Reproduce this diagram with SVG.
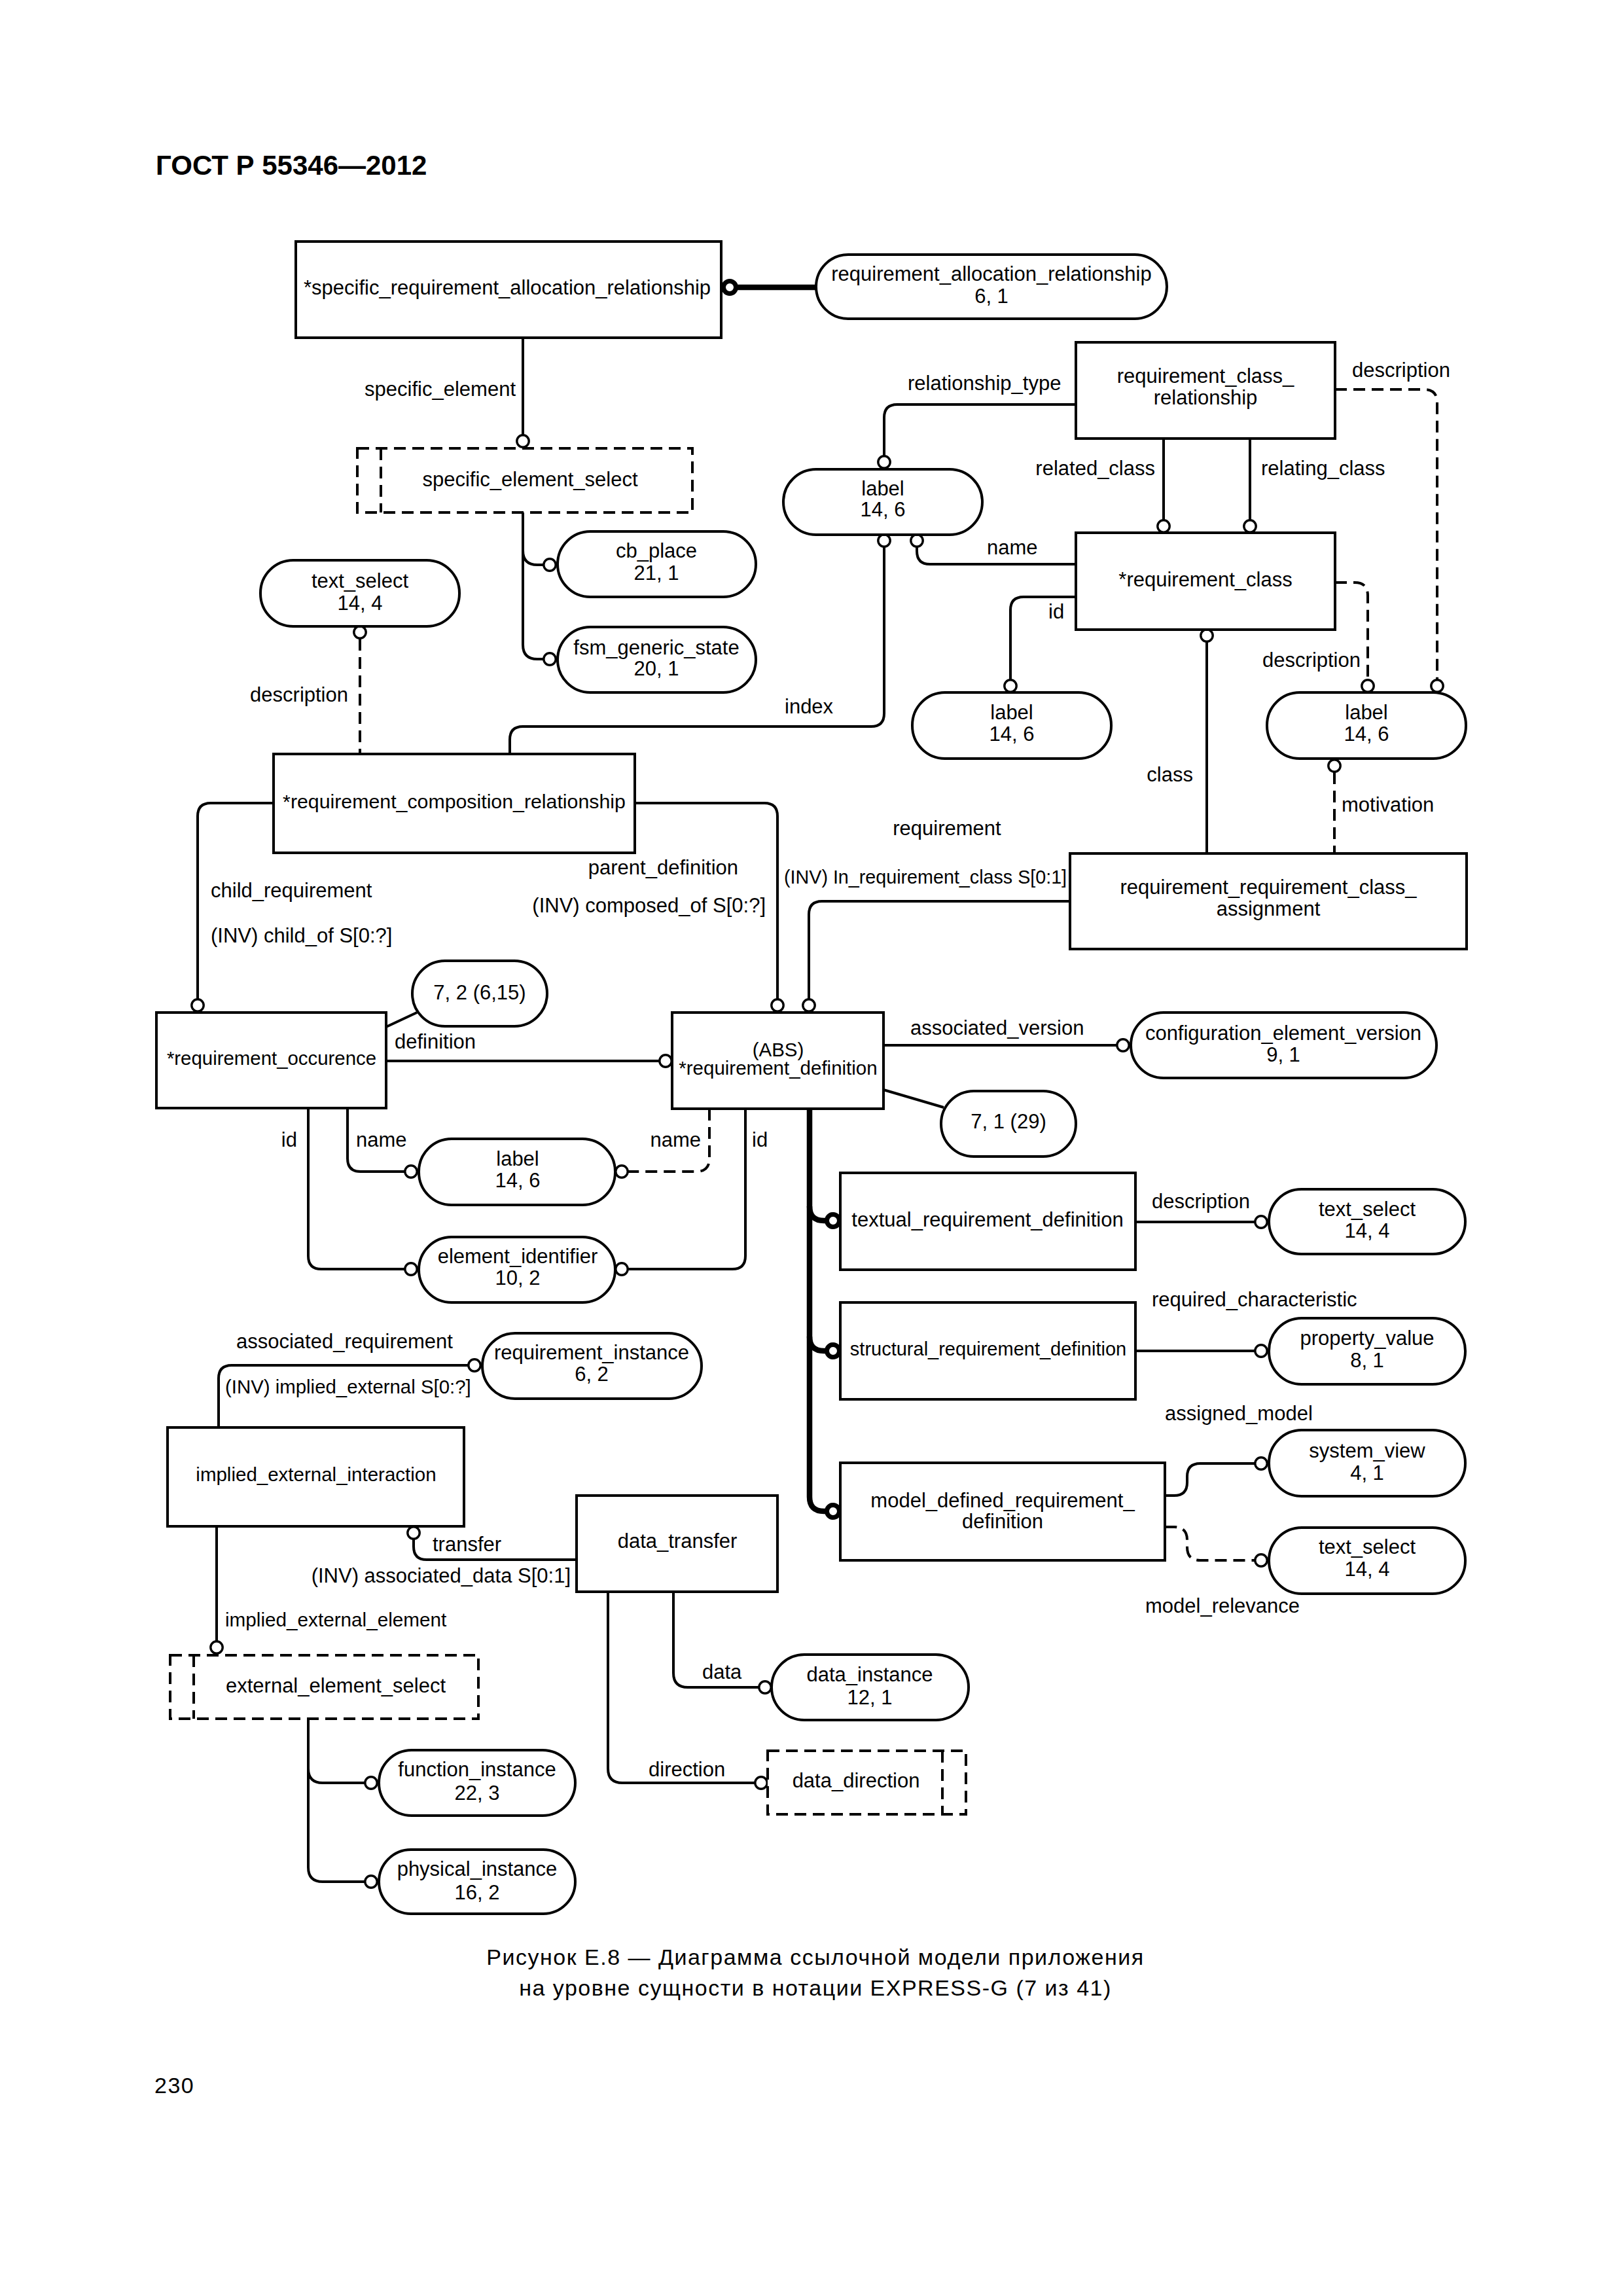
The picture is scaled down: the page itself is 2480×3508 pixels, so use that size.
<svg xmlns="http://www.w3.org/2000/svg" width="2480" height="3508" viewBox="0 0 2480 3508">
<style>
.bx{fill:#fff;stroke:#000;stroke-width:4}
.sl{fill:#fff;stroke:#000;stroke-width:4;stroke-dasharray:18 10}
.sli{fill:none;stroke:#000;stroke-width:4;stroke-dasharray:18 10}
.ln{fill:none;stroke:#000;stroke-width:4}
.dl{fill:none;stroke:#000;stroke-width:4;stroke-dasharray:18 10}
.tk{fill:none;stroke:#000;stroke-width:8.5}
.c{fill:#fff;stroke:#000;stroke-width:3.4}
.ck{fill:#fff;stroke:#000;stroke-width:7}
text{font-family:"Liberation Sans",Arial,sans-serif;font-size:31px;fill:#000}
.m{text-anchor:middle}
.e{text-anchor:end}
.hd{font-size:42px;font-weight:bold}
.cap{font-size:34px;letter-spacing:1.5px}
</style>
<rect width="2480" height="3508" fill="#fff"/>
<text class="hd" x="238" y="267">ГОСТ Р 55346—2012</text>

<g id="connectors">
<path class="tk" d="M1125,439 H1247"/>
<circle class="ck" cx="1115" cy="439" r="9.5"/>
<path class="ln" d="M799,516 V664"/><circle class="c" cx="799" cy="674" r="9.2"/>
<path class="ln" d="M799,783 V985 Q799,1007 821,1007 H830"/><circle class="c" cx="840" cy="1007" r="9.2"/>
<path class="ln" d="M799,841 Q799,863 821,863 H830"/><circle class="c" cx="840" cy="863" r="9.2"/>
<path class="dl" d="M550,976 V1152"/><circle class="c" cx="550" cy="966" r="9.2"/>
<path class="ln" d="M779,1152 V1130 Q779,1110 799,1110 H1331 Q1351,1110 1351,1090 V836"/><circle class="c" cx="1351" cy="826" r="9.2"/>
<path class="ln" d="M1644,618 H1371 Q1351,618 1351,638 V696"/><circle class="c" cx="1351" cy="706" r="9.2"/>
<path class="ln" d="M1644,862 H1421 Q1401,862 1401,842 V836"/><circle class="c" cx="1401" cy="826" r="9.2"/>
<path class="ln" d="M1644,912 H1564 Q1544,912 1544,932 V1038"/><circle class="c" cx="1544" cy="1048" r="9.2"/>
<path class="ln" d="M1778,670 V794"/><circle class="c" cx="1778" cy="804" r="9.2"/>
<path class="ln" d="M1910,670 V794"/><circle class="c" cx="1910" cy="804" r="9.2"/>
<path class="dl" d="M2040,595 H2176 Q2196,595 2196,615 V1038"/><circle class="c" cx="2196" cy="1048" r="9.2"/>
<path class="dl" d="M2040,890 H2070 Q2090,890 2090,910 V1038"/><circle class="c" cx="2090" cy="1048" r="9.2"/>
<path class="ln" d="M1844,981 V1304"/><circle class="c" cx="1844" cy="971" r="9.2"/>
<path class="dl" d="M2039,1180 V1304"/><circle class="c" cx="2039" cy="1170" r="9.2"/>
<path class="ln" d="M418,1227 H322 Q302,1227 302,1247 V1526"/><circle class="c" cx="302" cy="1536" r="9.2"/>
<path class="ln" d="M970,1227 H1168 Q1188,1227 1188,1247 V1526"/><circle class="c" cx="1188" cy="1536" r="9.2"/>
<path class="ln" d="M1635,1377 H1256 Q1236,1377 1236,1397 V1526"/><circle class="c" cx="1236" cy="1536" r="9.2"/>
<path class="ln" d="M590,1621 H1007"/><circle class="c" cx="1017" cy="1621" r="9.2"/>
<path class="ln" d="M590,1569 L637,1547"/>
<path class="ln" d="M1350,1597 H1706"/><circle class="c" cx="1716" cy="1597" r="9.2"/>
<path class="ln" d="M1350,1665 L1442,1692"/>
<path class="ln" d="M531,1693 V1770 Q531,1790 551,1790 H618"/><circle class="c" cx="628" cy="1790" r="9.2"/>
<path class="ln" d="M471,1693 V1919 Q471,1939 491,1939 H618"/><circle class="c" cx="628" cy="1939" r="9.2"/>
<path class="dl" d="M1084,1694 V1770 Q1084,1790 1064,1790 H960"/><circle class="c" cx="950" cy="1790" r="9.2"/>
<path class="ln" d="M1139,1694 V1919 Q1139,1939 1119,1939 H960"/><circle class="c" cx="950" cy="1939" r="9.2"/>
<path class="tk" d="M1237,1694 V2287 Q1237,2309 1259,2309 H1263"/>
<path class="tk" d="M1237,1843 Q1237,1865 1259,1865 H1263"/>
<path class="tk" d="M1237,2042 Q1237,2064 1259,2064 H1263"/>
<circle class="ck" cx="1273" cy="1865" r="9.5"/>
<circle class="ck" cx="1273" cy="2064" r="9.5"/>
<circle class="ck" cx="1273" cy="2309" r="9.5"/>
<path class="ln" d="M1735,1867 H1917"/><circle class="c" cx="1927" cy="1867" r="9.2"/>
<path class="ln" d="M1735,2064 H1917"/><circle class="c" cx="1927" cy="2064" r="9.2"/>
<path class="ln" d="M1780,2285 H1794 Q1814,2285 1814,2265 V2256 Q1814,2236 1834,2236 H1917"/><circle class="c" cx="1927" cy="2236" r="9.2"/>
<path class="dl" d="M1780,2333 H1794 Q1814,2333 1814,2353 V2364 Q1814,2384 1834,2384 H1917"/><circle class="c" cx="1927" cy="2384" r="9.2"/>
<path class="ln" d="M334,2181 V2106 Q334,2086 354,2086 H715"/><circle class="c" cx="725" cy="2086" r="9.2"/>
<path class="ln" d="M881,2383 H652 Q632,2383 632,2363 V2352"/><circle class="c" cx="632" cy="2342" r="9.2"/>
<path class="ln" d="M331,2332 V2507"/><circle class="c" cx="331" cy="2517" r="9.2"/>
<path class="ln" d="M471,2626 V2853 Q471,2875 493,2875 H557"/><circle class="c" cx="567" cy="2875" r="9.2"/>
<path class="ln" d="M471,2702 Q471,2724 493,2724 H557"/><circle class="c" cx="567" cy="2724" r="9.2"/>
<path class="ln" d="M1029,2432 V2556 Q1029,2578 1051,2578 H1159"/><circle class="c" cx="1169" cy="2578" r="9.2"/>
<path class="ln" d="M929,2432 V2702 Q929,2724 951,2724 H1153"/><circle class="c" cx="1163" cy="2724" r="9.2"/>

<text class="e" x="788" y="605">specific_element</text>
<text x="1387" y="596">relationship_type</text>
<text x="2066" y="576">description</text>
<text class="e" x="1765" y="726">related_class</text>
<text x="1927" y="726">relating_class</text>
<text x="1508" y="847">name</text>
<text x="1602" y="945">id</text>
<text class="e" x="2079" y="1019">description</text>
<text class="e" x="532" y="1072">description</text>
<text x="1199" y="1090">index</text>
<text class="e" x="1823" y="1194">class</text>
<text x="2050" y="1240">motivation</text>
<text class="m" x="1447" y="1276">requirement</text>
<text class="e" x="1128" y="1336">parent_definition</text>
<text x="1198" y="1350" style="font-size:28.7px">(INV) In_requirement_class S[0:1]</text>
<text x="322" y="1371">child_requirement</text>
<text class="e" x="1170" y="1394">(INV) composed_of S[0:?]</text>
<text x="322" y="1440">(INV) child_of S[0:?]</text>
<text x="1391" y="1581">associated_version</text>
<text x="603" y="1602">definition</text>
<text class="e" x="454" y="1752">id</text>
<text x="544" y="1752">name</text>
<text class="e" x="1071" y="1752">name</text>
<text x="1149" y="1752">id</text>
<text x="1760" y="1846">description</text>
<text x="1760" y="1996">required_characteristic</text>
<text x="361" y="2060">associated_requirement</text>
<text x="344" y="2129" style="font-size:29.4px">(INV) implied_external S[0:?]</text>
<text x="1780" y="2170">assigned_model</text>
<text x="661" y="2370">transfer</text>
<text class="e" x="872" y="2418">(INV) associated_data S[0:1]</text>
<text x="1750" y="2464">model_relevance</text>
<text x="344" y="2485" style="font-size:29.7px">implied_external_element</text>
<text x="1073" y="2565">data</text>
<text x="991" y="2714">direction</text>
</g>

<g id="n-srar"><rect class="bx" x="452" y="369" width="650" height="147"/><text class="m" x="775" y="450">*specific_requirement_allocation_relationship</text></g>
<g id="n-rar"><rect class="bx" x="1247" y="389" width="536" height="98" rx="49"/><text class="m" x="1515" y="429">requirement_allocation_relationship</text><text class="m" x="1515" y="463">6, 1</text></g>
<g id="n-ses"><rect class="sl" x="546" y="685" width="512" height="98"/><line class="sli" x1="582" y1="685" x2="582" y2="783"/><text class="m" x="810" y="743">specific_element_select</text></g>
<g id="n-cbp"><rect class="bx" x="852" y="812" width="303" height="100" rx="50"/><text class="m" x="1003" y="852">cb_place</text><text class="m" x="1003" y="886">21, 1</text></g>
<g id="n-fsm"><rect class="bx" x="852" y="958" width="303" height="100" rx="50"/><text class="m" x="1003" y="1000">fsm_generic_state</text><text class="m" x="1003" y="1032">20, 1</text></g>
<g id="n-ts1"><rect class="bx" x="398" y="856" width="304" height="101" rx="50"/><text class="m" x="550" y="898">text_select</text><text class="m" x="550" y="932">14, 4</text></g>
<g id="n-lab1"><rect class="bx" x="1197" y="717" width="304" height="100" rx="50"/><text class="m" x="1349" y="757">label</text><text class="m" x="1349" y="789">14, 6</text></g>
<g id="n-rcr"><rect class="bx" x="1644" y="523" width="396" height="147"/><text class="m" x="1842" y="585">requirement_class_</text><text class="m" x="1842" y="618">relationship</text></g>
<g id="n-rc"><rect class="bx" x="1644" y="814" width="396" height="148"/><text class="m" x="1842" y="896">*requirement_class</text></g>
<g id="n-lab2"><rect class="bx" x="1394" y="1058" width="304" height="101" rx="50"/><text class="m" x="1546" y="1099">label</text><text class="m" x="1546" y="1132">14, 6</text></g>
<g id="n-lab3"><rect class="bx" x="1936" y="1058" width="304" height="101" rx="50"/><text class="m" x="2088" y="1099">label</text><text class="m" x="2088" y="1132">14, 6</text></g>
<g id="n-rcomp"><rect class="bx" x="418" y="1152" width="552" height="151"/><text class="m" x="694" y="1235" style="font-size:30.3px">*requirement_composition_relationship</text></g>
<g id="n-rrca"><rect class="bx" x="1635" y="1304" width="606" height="146"/><text class="m" x="1938" y="1366">requirement_requirement_class_</text><text class="m" x="1938" y="1399">assignment</text></g>
<g id="n-ro"><rect class="bx" x="239" y="1547" width="351" height="146"/><text class="m" x="415" y="1627" style="font-size:29.4px">*requirement_occurence</text></g>
<g id="n-72"><rect class="bx" x="630" y="1468" width="206" height="100" rx="50"/><text class="m" x="733" y="1527">7, 2 (6,15)</text></g>
<g id="n-rd"><rect class="bx" x="1027" y="1547" width="323" height="147"/><text class="m" x="1189" y="1614" style="font-size:29.5px">(ABS)</text><text class="m" x="1189" y="1642" style="font-size:29.5px">*requirement_definition</text></g>
<g id="n-cev"><rect class="bx" x="1728" y="1547" width="467" height="100" rx="50"/><text class="m" x="1961" y="1589">configuration_element_version</text><text class="m" x="1961" y="1622">9, 1</text></g>
<g id="n-71"><rect class="bx" x="1438" y="1667" width="206" height="100" rx="50"/><text class="m" x="1541" y="1724">7, 1 (29)</text></g>
<g id="n-lab4"><rect class="bx" x="640" y="1740" width="300" height="101" rx="50"/><text class="m" x="791" y="1781">label</text><text class="m" x="791" y="1814">14, 6</text></g>
<g id="n-eid"><rect class="bx" x="640" y="1890" width="300" height="100" rx="50"/><text class="m" x="791" y="1930">element_identifier</text><text class="m" x="791" y="1963">10, 2</text></g>
<g id="n-trd"><rect class="bx" x="1284" y="1792" width="451" height="148"/><text class="m" x="1509" y="1874">textual_requirement_definition</text></g>
<g id="n-srd"><rect class="bx" x="1284" y="1990" width="451" height="148"/><text class="m" x="1510" y="2071" style="font-size:29px">structural_requirement_definition</text></g>
<g id="n-mdrd"><rect class="bx" x="1284" y="2235" width="496" height="149"/><text class="m" x="1532" y="2303">model_defined_requirement_</text><text class="m" x="1532" y="2335">definition</text></g>
<g id="n-ts2"><rect class="bx" x="1939" y="1817" width="300" height="99" rx="49.5"/><text class="m" x="2089" y="1858">text_select</text><text class="m" x="2089" y="1891">14, 4</text></g>
<g id="n-pv"><rect class="bx" x="1939" y="2014" width="300" height="101" rx="50"/><text class="m" x="2089" y="2055">property_value</text><text class="m" x="2089" y="2089">8, 1</text></g>
<g id="n-sv"><rect class="bx" x="1939" y="2185" width="300" height="101" rx="50"/><text class="m" x="2089" y="2227">system_view</text><text class="m" x="2089" y="2261">4, 1</text></g>
<g id="n-ts3"><rect class="bx" x="1939" y="2334" width="300" height="101" rx="50"/><text class="m" x="2089" y="2374">text_select</text><text class="m" x="2089" y="2408">14, 4</text></g>
<g id="n-ri"><rect class="bx" x="737" y="2037" width="335" height="100" rx="50"/><text class="m" x="904" y="2077">requirement_instance</text><text class="m" x="904" y="2110">6, 2</text></g>
<g id="n-iei"><rect class="bx" x="256" y="2181" width="453" height="151"/><text class="m" x="483" y="2263" style="font-size:29.5px">implied_external_interaction</text></g>
<g id="n-dt"><rect class="bx" x="881" y="2285" width="307" height="147"/><text class="m" x="1035" y="2365">data_transfer</text></g>
<g id="n-ees"><rect class="sl" x="260" y="2529" width="471" height="97"/><line class="sli" x1="296" y1="2529" x2="296" y2="2626"/><text class="m" x="513" y="2586">external_element_select</text></g>
<g id="n-fi"><rect class="bx" x="579" y="2674" width="300" height="100" rx="50"/><text class="m" x="729" y="2714">function_instance</text><text class="m" x="729" y="2750">22, 3</text></g>
<g id="n-pi"><rect class="bx" x="579" y="2826" width="300" height="98" rx="49"/><text class="m" x="729" y="2866">physical_instance</text><text class="m" x="729" y="2902">16, 2</text></g>
<g id="n-di"><rect class="bx" x="1179" y="2528" width="301" height="100" rx="50"/><text class="m" x="1329" y="2569">data_instance</text><text class="m" x="1329" y="2604">12, 1</text></g>
<g id="n-dd"><rect class="sl" x="1173" y="2675" width="303" height="97"/><line class="sli" x1="1440" y1="2675" x2="1440" y2="2772"/><text class="m" x="1308" y="2731">data_direction</text></g>

<text class="m cap" x="1246" y="3002">Рисунок Е.8 — Диаграмма ссылочной модели приложения</text>
<text class="m cap" x="1246" y="3049">на уровне сущности в нотации EXPRESS-G (7 из 41)</text>
<text class="cap" x="236" y="3198">230</text>
</svg>
